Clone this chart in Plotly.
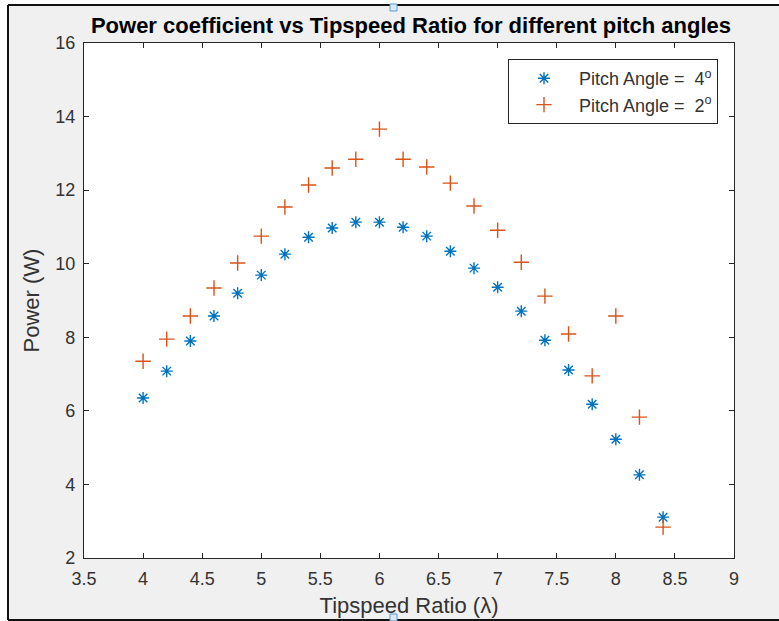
import plotly.graph_objects as go

tsr = [4.0, 4.2, 4.4, 4.6, 4.8, 5.0, 5.2, 5.4, 5.6, 5.8, 6.0, 6.2,
       6.4, 6.6, 6.8, 7.0, 7.2, 7.4, 7.6, 7.8, 8.0, 8.2, 8.4]
power_4deg = [6.35, 7.08, 7.90, 8.58, 9.20, 9.69, 10.26, 10.72, 10.97, 11.13, 11.13, 10.99,
              10.75, 10.34, 9.88, 9.36, 8.71, 7.92, 7.11, 6.18, 5.23, 4.26, 3.11]
power_2deg = [7.35, 7.95, 8.58, 9.34, 10.02, 10.75, 11.54, 12.14, 12.60, 12.84, 13.66, 12.84,
              12.63, 12.19, 11.57, 10.91, 10.04, 9.12, 8.09, 6.95, 8.58, 5.83, 2.84]
x_ticks = [3.5, 4, 4.5, 5, 5.5, 6, 6.5, 7, 7.5, 8, 8.5, 9]
y_ticks = [2, 4, 6, 8, 10, 12, 14, 16]

FONT = "Liberation Sans, Arial, sans-serif"
AX = "#262626"

W, H = 779, 621
L, R, T, B = 84, 734, 43, 558


def px(v):
    return (v - L) / (R - L)


def py(v):
    return (B - v) / (B - T)


fig = go.Figure()
fig.add_trace(go.Scatter(
    x=tsr, y=power_4deg, mode="markers",
    name="Pitch Angle =  4<sup>o</sup>",
    marker=dict(symbol="asterisk-open", size=10, color="#0072BD",
                line=dict(color="#0072BD", width=1.4)),
))
fig.add_trace(go.Scatter(
    x=tsr, y=power_2deg, mode="markers",
    name="Pitch Angle =  2<sup>o</sup>",
    marker=dict(symbol="cross-thin-open", size=11, color="#D95319",
                line=dict(color="#D95319", width=1.4)),
))

axis_common = dict(
    showgrid=False, zeroline=False, showline=True, linecolor=AX, linewidth=1.2,
    mirror="ticks", ticks="inside", ticklen=5, tickcolor=AX, tickwidth=1,
    tickfont=dict(family=FONT, size=18, color="#333333"),
)

fig.update_xaxes(range=[3.5, 9], tickvals=x_ticks,
                 ticktext=[("%g" % v) for v in x_ticks],
                 ticklabelstandoff=4,
                 title=dict(text="Tipspeed Ratio (λ)", standoff=9,
                            font=dict(family=FONT, size=22, color="#333333")),
                 **axis_common)
fig.update_yaxes(range=[2, 16], tickvals=y_ticks,
                 ticklabelstandoff=4,
                 title=dict(text="Power (W)", standoff=9,
                            font=dict(family=FONT, size=22, color="#333333")),
                 **axis_common)

shapes = [
    # white strips outside the figure frame
    dict(type="rect", xref="paper", yref="paper", x0=px(-5), x1=px(8), y0=py(630), y1=py(-5),
         fillcolor="white", line=dict(width=0), layer="below"),
    dict(type="rect", xref="paper", yref="paper", x0=px(-5), x1=px(790), y0=py(5), y1=py(-5),
         fillcolor="white", line=dict(width=0), layer="below"),
    # frame lines
    dict(type="line", xref="paper", yref="paper", x0=px(8), x1=px(8), y0=py(5), y1=py(620),
         line=dict(color="#111111", width=2)),
    dict(type="line", xref="paper", yref="paper", x0=px(8), x1=px(790), y0=py(5), y1=py(5),
         line=dict(color="#111111", width=2)),
    dict(type="line", xref="paper", yref="paper", x0=px(8), x1=px(790), y0=py(620), y1=py(620),
         line=dict(color="#111111", width=2)),
    # small selection handles
    dict(type="rect", xref="paper", yref="paper", x0=px(390), x1=px(397), y0=py(11), y1=py(4),
         fillcolor="#dbe8f5", line=dict(color="#5b9bd5", width=1)),
    dict(type="rect", xref="paper", yref="paper", x0=px(390), x1=px(397), y0=py(621), y1=py(614),
         fillcolor="#dbe8f5", line=dict(color="#5b9bd5", width=1)),
]

fig.update_layout(
    width=W, height=H,
    margin=dict(l=L, r=W - R, t=T, b=H - B, autoexpand=False),
    paper_bgcolor="#f0f0f0",
    plot_bgcolor="white",
    title=dict(text="<b>Power coefficient vs Tipspeed Ratio for different pitch angles</b>",
               xref="container", x=411 / W, xanchor="center",
               yref="container", y=1 - 25 / H, yanchor="middle",
               font=dict(family=FONT, size=22, color="black")),
    legend=dict(x=px(718), xanchor="right", y=py(59), yanchor="top",
                bgcolor="white", bordercolor=AX, borderwidth=1,
                font=dict(family=FONT, size=18, color="#333333"),
                itemwidth=60, tracegroupgap=0),
    shapes=shapes,
    showlegend=True,
)

fig.write_html("out.html")
